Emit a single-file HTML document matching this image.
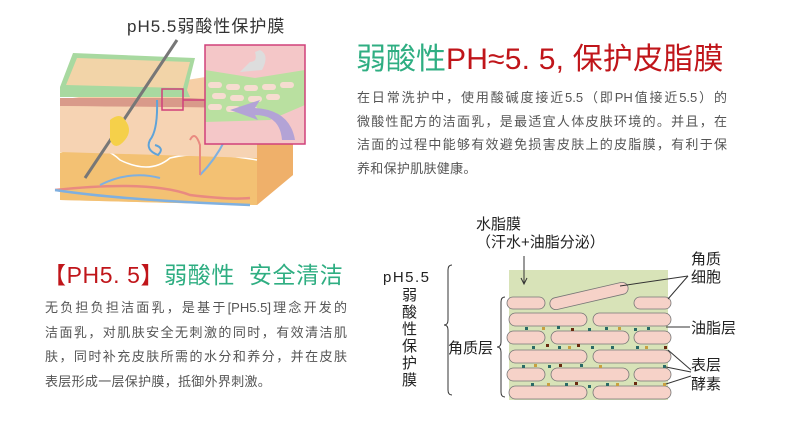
<!DOCTYPE html>
<html><head><meta charset="utf-8"><style>
html,body{margin:0;padding:0;background:#fff;}
body{width:790px;height:443px;position:relative;overflow:hidden;font-family:"Liberation Sans","Noto Sans CJK SC",sans-serif;}
.t{position:absolute;white-space:nowrap;}
.p{position:absolute;color:#555;font-size:13px;}
.p div{text-align:justify;text-align-last:justify;white-space:nowrap;}
.p div.l{text-align-last:left;}
</style></head><body>
<svg width="790" height="443" style="position:absolute;left:0;top:0" xmlns="http://www.w3.org/2000/svg">
<polygon points="60,100 250,70 293,100 293,175 257,205 60,200" fill="#f6cfa6"/>
<polygon points="257,110 293,95 293,175 257,205" fill="#efb06a"/>
<polygon points="60,150 257,158 257,205 60,200" fill="#f3c173"/>
<path d="M60,152 Q100,140 120,160 Q150,175 170,158 Q200,150 257,160" fill="none" stroke="#fff" stroke-width="1.5"/>
<polygon points="60,98 190,98 257,102 257,108 60,106" fill="#d99a8a"/>
<polygon points="60,106 257,108 257,158 60,152" fill="#f6d3b3"/>
<polygon points="60,87 73,53 195,58 187,90 190,97 60,97" fill="#a8d9a0"/>
<polygon points="66,85 77,58 190,62 183,88" fill="#f2d4a8"/>
<line x1="177" y1="40" x2="85" y2="178" stroke="#777" stroke-width="3"/>
<path d="M110,120 q10,-8 15,0 q8,10 0,20 q-10,12 -15,0 z" fill="#f5d04a"/>
<path d="M55,190 Q150,180 190,195 Q230,200 250,198" fill="none" stroke="#e98a80" stroke-width="2.5"/>
<path d="M55,190 Q120,200 250,205" fill="none" stroke="#7fb0e0" stroke-width="2.5"/>
<path d="M100,185 Q130,170 160,178 M200,175 Q215,160 225,140" fill="none" stroke="#7fb0e0" stroke-width="2"/>
<path d="M157,100 Q158,130 150,140 Q145,150 158,155 Q165,148 155,145" fill="none" stroke="#5fa3d8" stroke-width="2"/>
<path d="M190,140 Q195,130 200,145 L200,175" fill="none" stroke="#e98a80" stroke-width="2"/>
<rect x="162" y="89" width="21" height="21" fill="none" stroke="#d0407a" stroke-width="1.5"/>
<line x1="183" y1="100" x2="205" y2="100" stroke="#d0407a" stroke-width="1.5"/>
<rect x="205" y="45" width="100" height="99" fill="#f4c7c8"/>
<polygon points="205,70 255,78 305,70 305,105 270,120 205,122" fill="#b9e0a0"/>
<g fill="#f6dcd0">
<rect x="208" y="82" width="14" height="6" rx="3"/><rect x="226" y="84" width="14" height="6" rx="3"/><rect x="244" y="85" width="14" height="6" rx="3"/><rect x="262" y="84" width="14" height="6" rx="3"/><rect x="280" y="82" width="14" height="6" rx="3"/>
<rect x="212" y="93" width="14" height="6" rx="3"/><rect x="230" y="95" width="14" height="6" rx="3"/><rect x="248" y="96" width="14" height="6" rx="3"/><rect x="266" y="94" width="14" height="6" rx="3"/>
<rect x="208" y="104" width="14" height="6" rx="3"/><rect x="226" y="106" width="14" height="6" rx="3"/><rect x="244" y="107" width="14" height="6" rx="3"/>
</g>
<path d="M295,140 Q290,110 255,108 L260,100 L230,110 L258,120 L255,115 Q280,115 282,140 z" fill="#b3a3d6"/>
<path d="M260,50 Q270,55 262,70 L240,72 L250,62 Q258,62 255,52 z" fill="#ddd"/>
<rect x="205" y="45" width="100" height="99" fill="none" stroke="#d0407a" stroke-width="1.5"/>

<rect x="509" y="270" width="159" height="130" fill="#d8e3b8"/>
<g fill="#f6d2c8" stroke="#777" stroke-width="0.8">
<rect x="507" y="297" width="38" height="12" rx="6"/>
<rect x="634" y="297" width="37" height="12" rx="6"/>
<rect x="549" y="290" width="80" height="12" rx="6" transform="rotate(-13 589 296)"/>
<rect x="509" y="313" width="78" height="13" rx="6.5"/><rect x="593" y="313" width="78" height="13" rx="6.5"/>
<rect x="507" y="331" width="38" height="13" rx="6.5"/><rect x="551" y="331" width="78" height="13" rx="6.5"/><rect x="634" y="331" width="37" height="13" rx="6.5"/>
<rect x="509" y="350" width="78" height="13" rx="6.5"/><rect x="593" y="350" width="78" height="13" rx="6.5"/>
<rect x="507" y="368" width="38" height="13" rx="6.5"/><rect x="551" y="368" width="78" height="13" rx="6.5"/><rect x="634" y="368" width="37" height="13" rx="6.5"/>
<rect x="509" y="386" width="78" height="13" rx="6.5"/><rect x="593" y="386" width="78" height="13" rx="6.5"/>
</g>
<g>
<rect x="525" y="327" width="3" height="3" fill="#2a6a66"/><rect x="542" y="327" width="3" height="3" fill="#c8a040"/><rect x="557" y="326" width="3" height="3" fill="#2a6a66"/><rect x="571" y="328" width="3" height="3" fill="#6a2a10"/><rect x="588" y="328" width="3" height="3" fill="#2a6a66"/><rect x="605" y="327" width="3" height="3" fill="#2a6a66"/><rect x="618" y="327" width="3" height="3" fill="#c8a040"/><rect x="634" y="328" width="3" height="3" fill="#2a6a66"/><rect x="647" y="327" width="3" height="3" fill="#2a6a66"/>
<rect x="532" y="346" width="3" height="3" fill="#2a6a66"/><rect x="546" y="344" width="3" height="3" fill="#6a2a10"/><rect x="558" y="346" width="3" height="3" fill="#2a6a66"/><rect x="568" y="346" width="3" height="3" fill="#c8a040"/><rect x="577" y="344" width="3" height="3" fill="#6a2a10"/><rect x="591" y="346" width="3" height="3" fill="#2a6a66"/><rect x="611" y="346" width="3" height="3" fill="#2a6a66"/><rect x="636" y="346" width="3" height="3" fill="#2a6a66"/><rect x="645" y="346" width="3" height="3" fill="#c8a040"/><rect x="664" y="346" width="3" height="3" fill="#6a2a10"/>
<rect x="522" y="365" width="3" height="3" fill="#2a6a66"/><rect x="534" y="364" width="3" height="3" fill="#c8a040"/><rect x="548" y="365" width="3" height="3" fill="#2a6a66"/><rect x="559" y="364" width="3" height="3" fill="#6a2a10"/><rect x="580" y="364" width="3" height="3" fill="#2a6a66"/><rect x="599" y="365" width="3" height="3" fill="#c8a040"/><rect x="663" y="365" width="3" height="3" fill="#2a6a66"/>
<rect x="531" y="383" width="3" height="3" fill="#2a6a66"/><rect x="547" y="383" width="3" height="3" fill="#c8a040"/><rect x="565" y="383" width="3" height="3" fill="#2a6a66"/><rect x="575" y="382" width="3" height="3" fill="#6a2a10"/><rect x="588" y="385" width="3" height="3" fill="#2a6a66"/><rect x="606" y="383" width="3" height="3" fill="#2a6a66"/><rect x="616" y="383" width="3" height="3" fill="#c8a040"/><rect x="634" y="382" width="3" height="3" fill="#6a2a10"/><rect x="663" y="383" width="3" height="3" fill="#c8a040"/>
</g>
<g fill="none" stroke="#333" stroke-width="1">
<line x1="524" y1="256" x2="524" y2="283"/><path d="M521,278 L524,284 L527,278"/>
<path d="M452,265 q-4,0 -4,5 v50 q0,5 -4,5 q4,0 4,5 v60 q0,5 4,5"/>
<path d="M505,297 q-4,0 -4,5 v40 q0,5 -4,5 q4,0 4,5 v40 q0,5 4,5"/>
<line x1="620" y1="286" x2="688" y2="276"/><line x1="668" y1="299" x2="688" y2="276"/>
<line x1="666" y1="327" x2="690" y2="327"/>
<line x1="668" y1="350" x2="691" y2="370"/><line x1="666" y1="367" x2="691" y2="372"/><line x1="666" y1="384" x2="691" y2="376"/>
</g>
</svg>

<div class="t" style="left:127px;top:12px;font-size:17px;color:#333;letter-spacing:1px;">pH5.5弱酸性保护膜</div>

<div class="t" style="left:356px;top:42px;font-size:30px;line-height:36px;"><span style="color:#2fae82">弱酸性</span><span style="color:#c0151a;letter-spacing:0.2px">PH≈5. 5, 保护皮脂膜</span></div>
<div class="p" style="left:357px;top:86px;width:370px;line-height:23.5px;">
<div>在日常洗护中，使用酸碱度接近5.5（即PH值接近5.5）的</div>
<div>微酸性配方的洁面乳，是最适宜人体皮肤环境的。并且，在</div>
<div>洁面的过程中能够有效避免损害皮肤上的皮脂膜，有利于保</div>
<div class="l" style="letter-spacing:0.3px">养和保护肌肤健康。</div>
</div>

<div class="t" style="left:43px;top:260px;font-size:23px;line-height:30px;letter-spacing:0.6px;"><span style="color:#c0151a">【PH5. 5】</span><span style="color:#2fae82">弱酸性&nbsp;&nbsp;安全清洁</span></div>
<div class="p" style="left:45px;top:296px;width:302px;line-height:24.5px;">
<div>无负担负担洁面乳，是基于[PH5.5]理念开发的</div>
<div>洁面乳，对肌肤安全无刺激的同时，有效清洁肌</div>
<div>肤，同时补充皮肤所需的水分和养分，并在皮肤</div>
<div class="l" style="letter-spacing:0.3px">表层形成一层保护膜，抵御外界刺激。</div>
</div>

<div class="t" style="left:476px;top:216px;font-size:15px;color:#222;line-height:18px;">水脂膜<br>（汗水+油脂分泌）</div>
<div class="t" style="left:383px;top:269px;font-size:15px;color:#222;letter-spacing:1.5px;">pH5.5</div>
<div class="t" style="left:402px;top:287px;font-size:15px;color:#222;line-height:17px;width:16px;white-space:normal;">弱酸性保护膜</div>
<div class="t" style="left:448px;top:337px;font-size:15px;color:#222;">角质层</div>
<div class="t" style="left:691px;top:251px;font-size:15px;color:#222;line-height:18px;">角质<br>细胞</div>
<div class="t" style="left:691px;top:317px;font-size:15px;color:#222;">油脂层</div>
<div class="t" style="left:691px;top:356px;font-size:15px;color:#222;line-height:19px;">表层<br>酵素</div>
</body></html>
